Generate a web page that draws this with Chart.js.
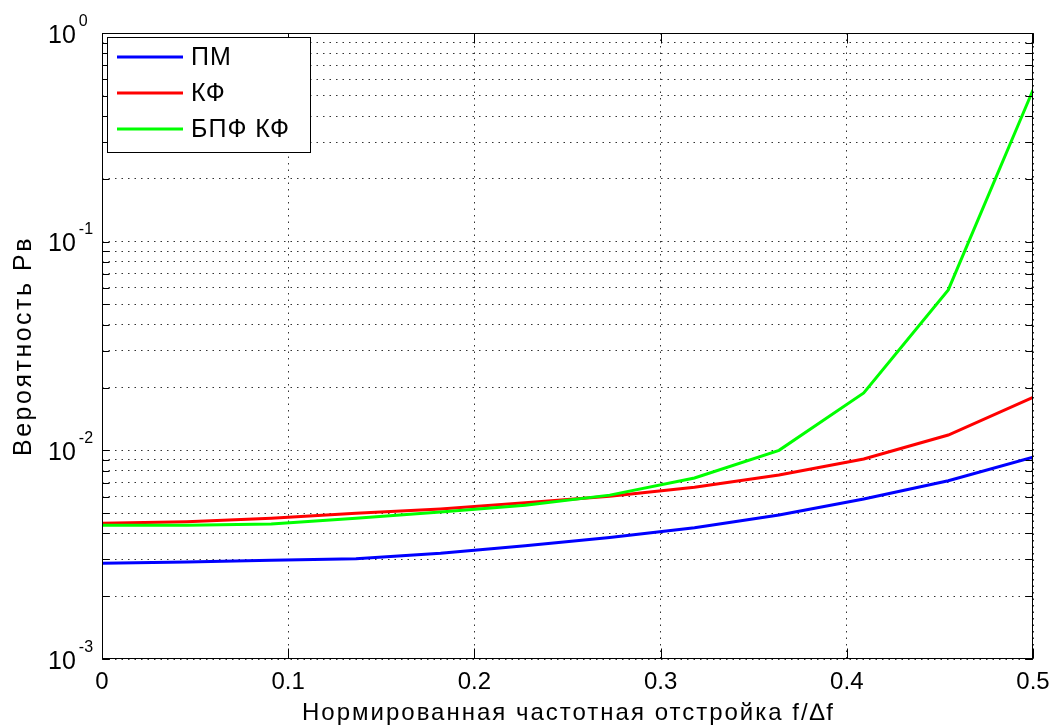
<!DOCTYPE html>
<html>
<head>
<meta charset="utf-8">
<script src="https://cdn.jsdelivr.net/npm/chart.js"></script>
<style>
  body { margin: 0; background: #fff; }
  #wrap { width: 1054px; height: 725px; }
</style>
</head>
<body>
<div id="wrap"><canvas id="chart" width="1054" height="725"></canvas></div>
<script>
// normalized detuning f/Δf
const detune = [0, 0.0455, 0.0909, 0.1364, 0.1818, 0.2273, 0.2727, 0.3182, 0.3636, 0.4091, 0.4545, 0.5];

// error probability for each receiver
const pm    = [0.00288, 0.00292, 0.00297, 0.00302, 0.00321, 0.00349, 0.00382, 0.00426, 0.0049, 0.00585, 0.00715, 0.00926];
const kf    = [0.00447, 0.00455, 0.00472, 0.00499, 0.00524, 0.00561, 0.00602, 0.00665, 0.00762, 0.00909, 0.01184, 0.01795];
const fftKf = [0.00438, 0.00438, 0.00444, 0.00473, 0.00507, 0.00546, 0.0061, 0.00737, 0.0100, 0.01883, 0.0587, 0.533];

const seriesNames = ['ПМ', 'КФ', 'БПФ КФ'];

const xTicks = [0, 0.1, 0.2, 0.3, 0.4, 0.5];
const xTickLabels = ['0', '0.1', '0.2', '0.3', '0.4', '0.5'];
const yDecades = [1e-3, 1e-2, 1e-1, 1];
const yDecadeExp = ['-3', '-2', '-1', '0'];
const yMinor = [2, 3, 4, 5, 6, 7, 8, 9];

const xTitle = 'Нормированная частотная отстройка f/∆f';
const yTitle = 'Вероятность Pв';

const FONT = '"Liberation Sans", Arial, sans-serif';

function pts(ys) {
  return detune.map((x, i) => ({ x: x, y: ys[i] }));
}

// all log grid values: decades plus 2..9 in between
const yGrid = [];
yDecades.forEach((d, i) => {
  yGrid.push(d);
  if (i < yDecades.length - 1) yMinor.forEach(m => yGrid.push(m * d));
});

const matlabFrame = {
  id: 'matlabFrame',
  afterDraw(chart) {
    const ctx = chart.ctx;
    const a = chart.chartArea;
    const xs = chart.scales.x, ys = chart.scales.y;
    const L = Math.round(a.left) + 0.5, R = Math.round(a.right) - 0.5;
    const T = Math.round(a.top) + 0.5, B = Math.round(a.bottom) - 0.5;
    ctx.save();

    // box + inward ticks
    ctx.strokeStyle = '#000';
    ctx.lineWidth = 1;
    ctx.strokeRect(L, T, R - L, B - T);
    ctx.beginPath();
    xTicks.forEach(v => {
      const px = Math.round(xs.getPixelForValue(v)) + 0.5;
      ctx.moveTo(px, B); ctx.lineTo(px, B - 10);
      ctx.moveTo(px, T); ctx.lineTo(px, T + 10);
    });
    yGrid.forEach(v => {
      const py = Math.round(ys.getPixelForValue(v)) + 0.5;
      ctx.moveTo(L, py); ctx.lineTo(L + 7, py);
      ctx.moveTo(R, py); ctx.lineTo(R - 7, py);
    });
    ctx.stroke();

    // tick labels
    ctx.fillStyle = '#000';
    ctx.font = '24px ' + FONT;
    ctx.textAlign = 'center';
    ctx.textBaseline = 'alphabetic';
    xTicks.forEach((v, i) => {
      ctx.fillText(xTickLabels[i], xs.getPixelForValue(v), 689);
    });
    yDecades.forEach((v, i) => {
      const py = ys.getPixelForValue(v);
      ctx.textAlign = 'left';
      ctx.font = '25px ' + FONT;
      ctx.fillText('10', 48, py + 9.5);
      const w = ctx.measureText('10').width;
      ctx.font = '16px ' + FONT;
      ctx.fillText(yDecadeExp[i], 48 + w + 3, py - 7.5);
    });

    // axis titles
    ctx.font = '24px ' + FONT;
    ctx.textAlign = 'center';
    ctx.letterSpacing = '2px';
    ctx.fillText(xTitle, (a.left + a.right) / 2 + 1, 720);
    ctx.font = '25px ' + FONT;
    ctx.letterSpacing = '2.5px';
    ctx.translate(31, (a.top + a.bottom) / 2);
    ctx.rotate(-Math.PI / 2);
    ctx.fillText(yTitle, 0, 0);
    ctx.restore();

    // legend box in the upper left corner
    ctx.save();
    const bx = 107.5, by = 37.5, bw = 203, bh = 115;
    ctx.fillStyle = '#fff';
    ctx.fillRect(bx, by, bw, bh);
    ctx.strokeStyle = '#000';
    ctx.lineWidth = 1;
    ctx.strokeRect(bx, by, bw, bh);
    ctx.font = '25px ' + FONT;
    ctx.letterSpacing = '1px';
    ctx.textAlign = 'left';
    ctx.textBaseline = 'middle';
    chart.data.datasets.forEach((ds, i) => {
      const ry = 57 + i * 36;
      ctx.strokeStyle = ds.borderColor;
      ctx.lineWidth = 3;
      ctx.beginPath();
      ctx.moveTo(117, ry); ctx.lineTo(183, ry);
      ctx.stroke();
      ctx.fillStyle = '#000';
      ctx.fillText(ds.label, 191, ry + 1);
    });
    ctx.restore();
  }
};

new Chart(document.getElementById('chart'), {
  type: 'line',
  data: {
    datasets: [
      { label: seriesNames[0], data: pts(pm),    borderColor: '#0000ff', order: 3 },
      { label: seriesNames[1], data: pts(kf),    borderColor: '#ff0000', order: 2 },
      { label: seriesNames[2], data: pts(fftKf), borderColor: '#00ff00', order: 1 },
    ],
  },
  options: {
    responsive: false,
    animation: false,
    layout: { padding: { left: 102, top: 33, right: 21, bottom: 66 } },
    elements: {
      line: { borderWidth: 3, tension: 0 },
      point: { radius: 0 },
    },
    plugins: {
      legend: { display: false },
      tooltip: { enabled: false },
    },
    scales: {
      x: {
        type: 'linear',
        min: 0,
        max: 0.5,
        afterBuildTicks: s => { s.ticks = xTicks.map(v => ({ value: v })); },
        afterFit: s => { s.height = 0; },
        ticks: { display: false },
        grid: { color: '#333', lineWidth: 1, drawTicks: false },
        border: { display: false, dash: [1.5, 5] },
      },
      y: {
        type: 'logarithmic',
        min: 0.001,
        max: 1,
        afterBuildTicks: s => { s.ticks = yGrid.map(v => ({ value: v })); },
        afterFit: s => { s.width = 0; },
        ticks: { display: false },
        grid: { color: '#333', lineWidth: 1, drawTicks: false },
        border: { display: false, dash: [1.5, 5] },
      },
    },
  },
  plugins: [matlabFrame],
});
</script>
</body>
</html>
